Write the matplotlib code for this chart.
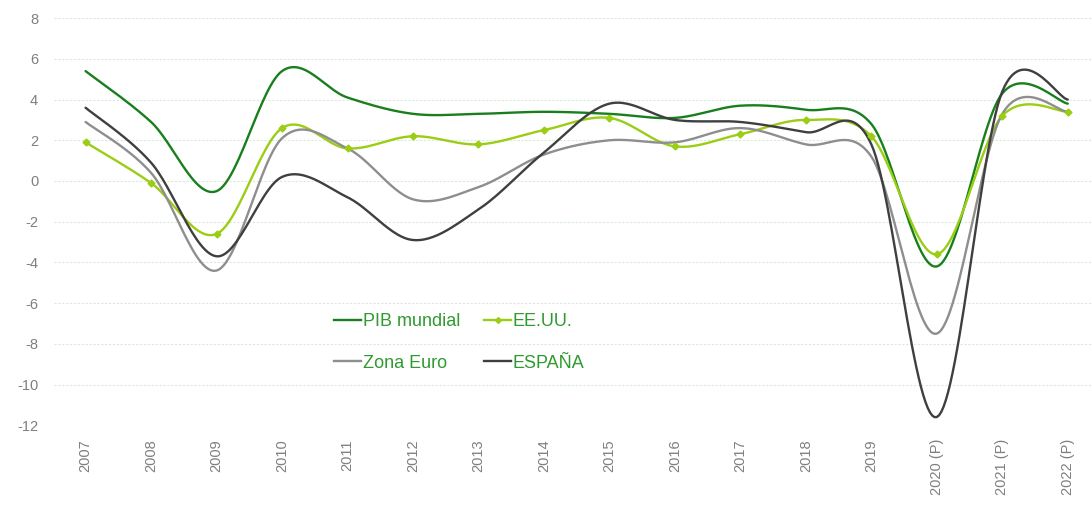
import numpy as np
import matplotlib.pyplot as plt
from matplotlib.lines import Line2D

plt.rcParams['font.family'] = ['Liberation Sans', 'DejaVu Sans']
plt.rcParams['axes.unicode_minus'] = False

years = ["2007", "2008", "2009", "2010", "2011", "2012", "2013", "2014", "2015",
         "2016", "2017", "2018", "2019", "2020 (P)", "2021 (P)", "2022 (P)"]
pib_mundial = [5.4, 2.9, -0.5, 5.4, 4.1, 3.3, 3.3, 3.4, 3.3, 3.1, 3.7, 3.5, 2.8, -4.2, 4.3, 3.8]
eeuu = [1.9, -0.1, -2.6, 2.6, 1.6, 2.2, 1.8, 2.5, 3.1, 1.7, 2.3, 3.0, 2.2, -3.6, 3.2, 3.4]
zona_euro = [2.9, 0.4, -4.4, 2.1, 1.6, -0.9, -0.3, 1.3, 2.0, 1.9, 2.6, 1.8, 1.2, -7.5, 3.3, 3.4]
espana = [3.6, 0.9, -3.7, 0.2, -0.8, -2.9, -1.4, 1.4, 3.8, 3.0, 2.9, 2.4, 1.8, -11.6, 4.4, 4.0]

series = [
    ("PIB mundial", pib_mundial, "#187f1c"),
    ("EE.UU.", eeuu, "#9acd14"),
    ("Zona Euro", zona_euro, "#8e8e8e"),
    ("ESPAÑA", espana, "#3f3f3f"),
]


def smooth(x, y, n=30):
    # excel style smoothed line: cubic bezier with catmull-rom control points
    x = np.asarray(x, float)
    y = np.asarray(y, float)
    px = np.concatenate([[x[0]], x, [x[-1]]])
    py = np.concatenate([[y[0]], y, [y[-1]]])
    t = np.linspace(0, 1, n)[:, None]
    xs, ys = [], []
    for i in range(1, len(px) - 2):
        p0 = np.array([px[i], py[i]])
        p3 = np.array([px[i + 1], py[i + 1]])
        p1 = p0 + (p3 - np.array([px[i - 1], py[i - 1]])) / 6
        p2 = p3 - (np.array([px[i + 2], py[i + 2]]) - p0) / 6
        pts = ((1 - t) ** 3) * p0 + 3 * ((1 - t) ** 2) * t * p1 + 3 * (1 - t) * t ** 2 * p2 + t ** 3 * p3
        xs.append(pts[:, 0])
        ys.append(pts[:, 1])
    return np.concatenate(xs), np.concatenate(ys)


fig = plt.figure(figsize=(10.92, 5.05), dpi=100)
ax = fig.add_axes([0.049, 0.158, 0.951, 0.806])

x = np.arange(len(years))
handles = {}
for name, vals, color in series:
    sx, sy = smooth(x, vals)
    ax.plot(sx, sy, color=color, lw=1.7, solid_capstyle='round', zorder=3)
    if name == "EE.UU.":
        ax.plot(x, vals, ls='none', marker='D', ms=3.5, color=color, zorder=4)
        handles[name] = Line2D([], [], color=color, lw=1.7, marker='D', ms=3, label=name)
    else:
        handles[name] = Line2D([], [], color=color, lw=1.7, label=name)

ax.set_xlim(-0.49, 15.37)
ax.set_ylim(-12, 8)
ax.set_yticks(np.arange(-12, 9, 2))
ax.set_xticks(x)
ax.set_xticklabels(years, rotation=90, va='top')
ax.grid(axis='y', color='#d6ecd6', ls=(0, (2, 1.5)), lw=0.8)
ax.set_axisbelow(True)
for s in ax.spines.values():
    s.set_visible(False)
ax.tick_params(length=0, labelsize=10.5, labelcolor='#7f7f7f')
ax.tick_params(axis='y', pad=11)
ax.tick_params(axis='x', pad=10)

# legend filled column by column
order = ["PIB mundial", "Zona Euro", "EE.UU.", "ESPAÑA"]
leg = ax.legend(handles=[handles[k] for k in order], ncol=2, loc='center',
                bbox_to_anchor=(0.391, 0.203), frameon=False, fontsize=13,
                handlelength=1.5, handletextpad=0.1, columnspacing=1.3,
                labelspacing=1.35, borderpad=0)
for t in leg.get_texts():
    t.set_color('#2f9a2f')

fig.savefig("out.png", dpi=100)
